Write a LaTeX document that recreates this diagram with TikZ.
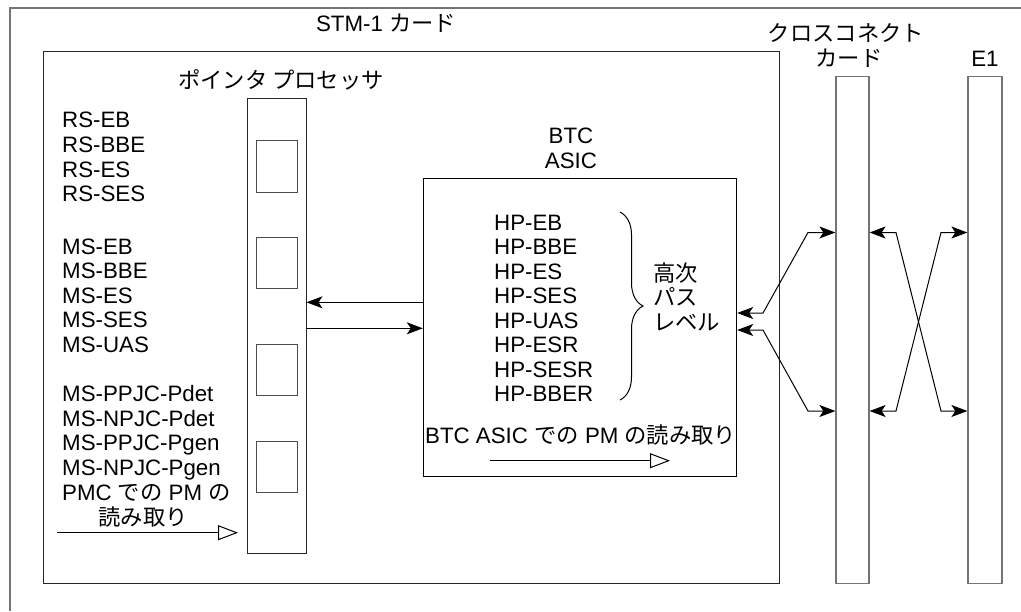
\documentclass[tikz,border=0pt]{standalone}
\usepackage{fontspec}
\setmainfont{Liberation Sans}
\newfontfamily\jp{Noto Sans CJK JP}
\usetikzlibrary{arrows.meta,positioning,fit,decorations.pathreplacing}

\begin{document}
\begin{tikzpicture}[x=1pt, y=-1pt,
    box/.style={draw=black!85, inner sep=0pt, line width=1pt},
    card/.style={draw=gray!90!black, inner sep=0pt, line width=1.2pt},
    txt/.style={font=\fontsize{22.3}{24.5}\selectfont, inner sep=0pt, anchor=base west},
    ctxt/.style={txt, anchor=base},
    arr/.style={-{Stealth[length=16pt, width=12pt, inset=4pt]}, line width=1pt},
    dblarr/.style={{Stealth[length=16pt, width=12pt, inset=4pt]}-{Stealth[length=16pt, width=12pt, inset=4pt]}, line width=1pt},
    pmarr/.style={-{Triangle[open, length=20pt, width=15pt]}, line width=1pt}
  ]
  \useasboundingbox (0,0) rectangle (1021,611);

  %% Outer frame
  \draw[card] (10,611) |- (1021,8);

  %% Boxes
  \node[box, fit={(43.3,51) (779,583.3)}] (stm) {};
  \node[box, fit={(247.3,98.3) (306,553.3)}] (pp) {};
  \foreach \t/\b [count=\i] in {140.7/192.3, 237.3/288.3, 344.3/395, 441/492}{
    \node[box, draw=black!70, fit={(256,\t) (297.3,\b)}] (reg\i) {};
  }
  \node[box, draw=black, fit={(423.3,178.3) (736.7,476)}] (btc) {};
  \node[card, fit={(836,76.7) (869,583.3)}] (cc) {};
  \node[card, fit={(968,76.7) (1002,583.3)}] (e1) {};

  %% Titles
  \node[ctxt] (stmlbl) at (386,31.7) {STM-1 {\jp カード}};
  \node[ctxt] (pplbl) at (281,88.5) {\jp ポインタ プロセッサ};
  \node[ctxt] (cclbl1) at (846,41) {\jp クロスコネクト};
  \node[ctxt] (cclbl2) at (849,66) {\jp カード};
  \node[ctxt] (e1lbl) at (985,66.7) {E1};
  \node[ctxt] (btclbl1) at (571,143.3) {BTC};
  \node[ctxt] (btclbl2) at (571,168.3) {ASIC};

  %% Pointer processor counters
  \foreach \y/\t [count=\i] in {127.5/RS-EB, 152/RS-BBE, 177/RS-ES, 201.5/RS-SES}{
    \node[txt] (rs\i) at (62,\y) {\t};
  }
  \foreach \y/\t [count=\i] in {254/MS-EB, 278.5/MS-BBE, 303/MS-ES, 327.5/MS-SES, 352/MS-UAS}{
    \node[txt] (ms\i) at (62,\y) {\t};
  }
  \foreach \y/\t [count=\i] in {401.5/MS-PPJC-Pdet, 426/MS-NPJC-Pdet, 450.5/MS-PPJC-Pgen, 475/MS-NPJC-Pgen}{
    \node[txt] (pj\i) at (62,\y) {\t};
  }
  \node[txt] (pmc1) at (62,500) {PMC {\jp での} PM {\jp の}};
  \node[ctxt] (pmc2) at (143,525) {\jp 読み取り};
  \coordinate (pmcs) at (57,532.7);
  \coordinate (pmce) at (238,532.7);
  \draw[pmarr] (pmcs) -- (pmce);

  %% BTC ASIC counters
  \foreach \y/\t [count=\i] in {230/HP-EB, 254.5/HP-BBE, 279/HP-ES, 303.5/HP-SES, 328/HP-UAS, 352.5/HP-ESR, 377/HP-SESR, 401.5/HP-BBER}{
    \node[txt] (hp\i) at (494,\y) {\t};
  }
  \draw[line width=1pt, decorate, decoration={brace, amplitude=23pt}] (620,212) -- (620,400);
  \node[txt] (hol1) at (653,281) {\jp 高次};
  \node[txt] (hol2) at (653,305.5) {\jp パス};
  \node[txt] (hol3) at (653,330) {\jp レベル};
  \node[txt] (btcpm) at (425,443.3) {BTC ASIC {\jp での} PM {\jp の読み取り}};
  \coordinate (bpms) at (490,460.7);
  \coordinate (bpme) at (670,460.7);
  \draw[pmarr] (bpms) -- (bpme);

  %% Pointer processor <-> BTC
  \draw[arr] (btc.west |- 0,302.3) -- (pp.east |- 0,302.3);
  \draw[arr] (pp.east |- 0,328.3) -- (btc.west |- 0,328.3);

  %% BTC <-> cross connect <-> E1
  \coordinate (k1) at (763,313);
  \coordinate (k2) at (808,232.5);
  \coordinate (k3) at (763,330);
  \coordinate (k4) at (808,411);
  \draw[dblarr] (btc.east |- k1) -- (k1) -- (k2) -- (cc.west |- k2);
  \draw[dblarr] (btc.east |- k3) -- (k3) -- (k4) -- (cc.west |- k4);
  \coordinate (x1) at (896,232.5);
  \coordinate (x2) at (941,411);
  \coordinate (x3) at (896,411);
  \coordinate (x4) at (941,232.5);
  \draw[dblarr] (cc.east |- x1) -- (x1) -- (x2) -- (e1.west |- x2);
  \draw[dblarr] (cc.east |- x3) -- (x3) -- (x4) -- (e1.west |- x4);

\end{tikzpicture}
\end{document}
